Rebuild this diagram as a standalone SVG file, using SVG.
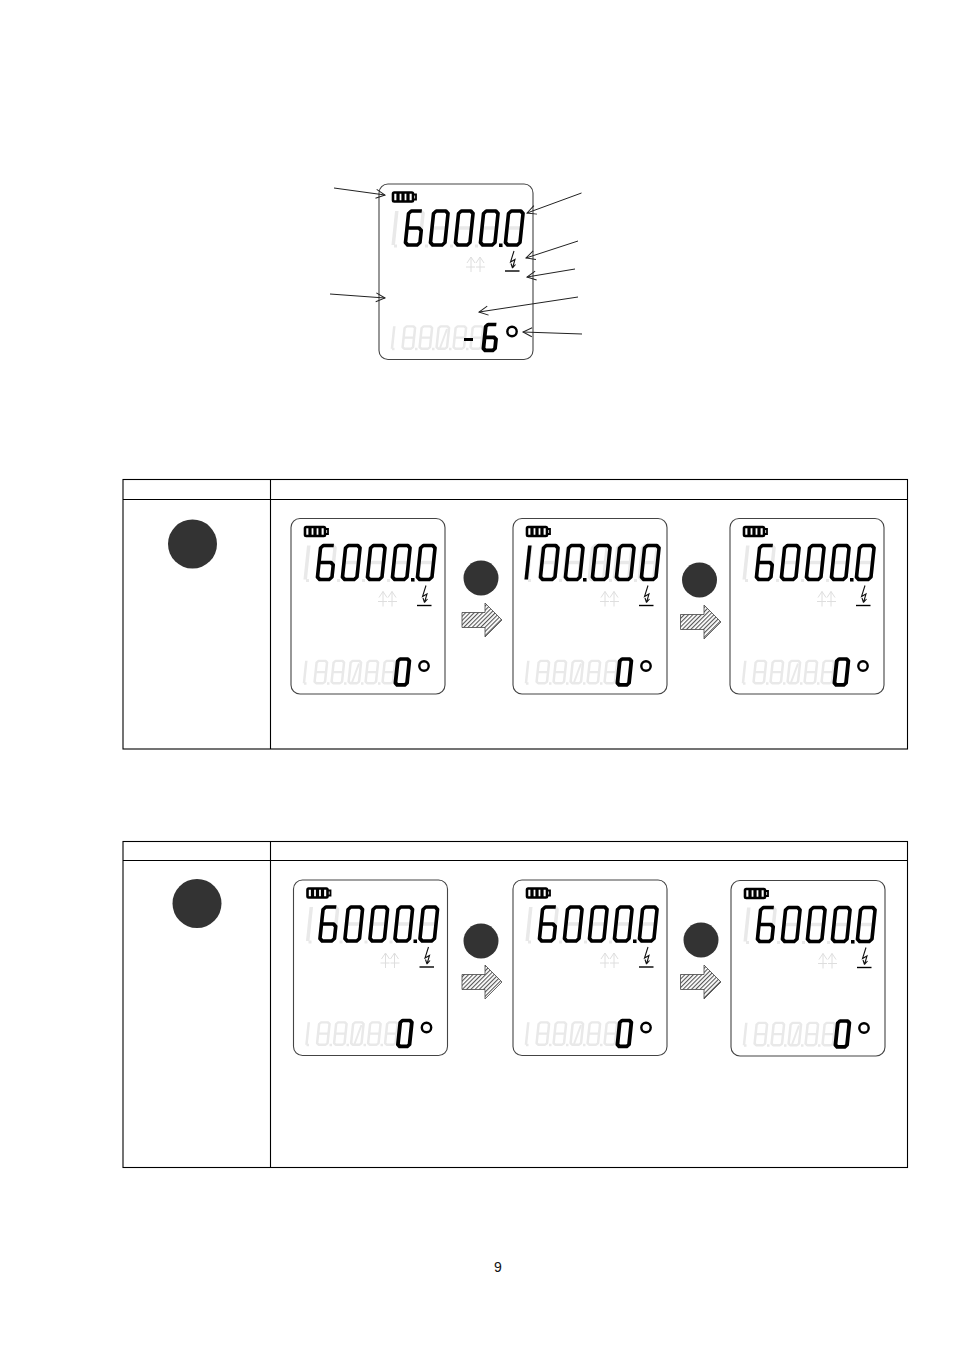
<svg xmlns="http://www.w3.org/2000/svg" width="954" height="1351" viewBox="0 0 954 1351">
<style>
.seg{fill:none;stroke-linejoin:round}
.on{stroke:#000;stroke-width:3.6}
.ghost{stroke:#e9e9e9;stroke-width:3.5}
.lo{stroke-width:4.8}
.fr{fill:#fff;stroke:#444;stroke-width:1.1}
.tbl{fill:none;stroke:#000;stroke-width:1.1}
.ptr{fill:none;stroke:#222;stroke-width:1;marker-end:url(#open)}
.blk{fill:url(#hatch);stroke:#444;stroke-width:.8}
.dot{fill:#333}
.num{font-family:"Liberation Sans",Arial,sans-serif;font-size:14px;fill:#111}
</style>
<defs>
<marker id="open" markerUnits="userSpaceOnUse" markerWidth="12" markerHeight="12" refX="10" refY="6" orient="auto"><path d="M1 1.500L10 6L1 10.500" fill="none" stroke="#222" stroke-width="1"/></marker>
<pattern id="hatch" patternUnits="userSpaceOnUse" width="3" height="3" patternTransform="rotate(45)"><rect width="3" height="3" fill="#fff"/><rect width="1.100" height="3" fill="#555"/></pattern>
<path id="d8" class="seg" d="M4.500 2H14L16.500 4.500V33.500L14 36H4.500L2 33.500V4.500ZM2 19H16.500"/>
<path id="d0" class="seg" d="M4.500 2H14L16.500 4.500V33.500L14 36H4.500L2 33.500V4.500Z"/>
<path id="d6" class="seg" d="M15 2H4.500L2 4.500V33.500L4.500 36H14L16.500 33.500V21.500L14 19H2"/>
<path id="d1" class="seg" d="M2 2V36"/>
<g id="base">
<rect class="fr" x="0" y="0" width="154" height="175.500" rx="9"/>
<g fill="none" stroke="#000">
<rect x="14" y="8.500" width="20" height="9" rx="1.200" stroke-width="2.600"/>
<path d="M34 10.500H37V15.500H34" stroke-width="1.800"/>
<path d="M19 9V17M24 9V17M29 9V17" stroke-width="3.200"/>
</g>
<g class="ghost">
<use href="#d1" transform="translate(16,25) skewX(-6)" class="ghost"/>
<use href="#d8" transform="translate(28,25) skewX(-6)" class="ghost"/>
<use href="#d8" transform="translate(53,25) skewX(-6)" class="ghost"/>
<use href="#d8" transform="translate(78,25) skewX(-6)" class="ghost"/>
<use href="#d8" transform="translate(103,25) skewX(-6)" class="ghost"/>
<use href="#d8" transform="translate(128,25) skewX(-6)" class="ghost"/>
<path d="M15 62h3M46 62h3M71 62h3M96 62h3M121 62h3" stroke-width="3" fill="none"/>
<use href="#d1" transform="translate(14,141) skewX(-6) scale(.72,.66)" class="ghost"/>
<use href="#d8" transform="translate(24.500,141) skewX(-6) scale(.72,.66)" class="ghost"/>
<use href="#d8" transform="translate(41.500,141) skewX(-6) scale(.72,.66)" class="ghost"/>
<use href="#d0" transform="translate(58.500,141) skewX(-6) scale(.72,.66)" class="ghost"/>
<use href="#d8" transform="translate(75.500,141) skewX(-6) scale(.72,.66)" class="ghost"/>
<use href="#d8" transform="translate(92.500,141) skewX(-6) scale(.72,.66)" class="ghost"/>
<path d="M61 164L68 145" stroke-width="2" fill="none"/>
<path d="M13 165h2.500M36 165h2.500M53 165h2.500M70 165h2.500M87 165h2.500" stroke-width="2.500" fill="none"/>
<path d="M87 83H96M97 83H106M92 73V88M101 73V88M88 79L92 73L96 79M97 79L101 73L105 79" fill="none" stroke-width="1" stroke="#dedede"/>
</g>
<path d="M135 67L131.500 78L136 75.500L133.500 84M133.500 84L132 79.500M133.500 84L136.500 80.500" fill="none" stroke="#111" stroke-width="1.100"/>
<path d="M126 87H140.500" fill="none" stroke="#000" stroke-width="1.400"/>
<circle cx="133" cy="147.500" r="4.700" fill="none" stroke="#000" stroke-width="2.400"/>
</g>
<g id="m6000">
<use href="#d6" transform="translate(28,25) skewX(-6)" class="on"/>
<use href="#d0" transform="translate(53,25) skewX(-6)" class="on"/>
<use href="#d0" transform="translate(78,25) skewX(-6)" class="on"/>
<use href="#d0" transform="translate(103,25) skewX(-6)" class="on"/>
<use href="#d0" transform="translate(128,25) skewX(-6)" class="on"/>
<rect x="120" y="59.500" width="3.500" height="3.500"/>
</g>
<use id="l0" href="#d0" transform="translate(105.500,139) skewX(-6) scale(.8,.76)" class="on lo"/>
</defs>

<g id="display-main" transform="translate(379,184)">
<use href="#base"/><use href="#m6000"/>
<path d="M85 155.500H94" fill="none" stroke="#000" stroke-width="3"/>
<use href="#d6" transform="translate(105.500,139) skewX(-6) scale(.8,.76)" class="on lo"/>
</g>

<g id="table-1">
<rect class="tbl" x="123" y="479.500" width="784.500" height="269.500"/>
<path class="tbl" d="M123 499.500H907.500M270.500 479.500V749"/>
<circle class="dot" cx="192.500" cy="544" r="24.500"/>
</g>
<g id="display-a" transform="translate(291,518.500)"><use href="#base"/><use href="#m6000"/><use href="#l0"/></g>
<g id="step-a"><circle class="dot" cx="481" cy="578" r="17.500"/><path class="blk" d="M462 612.500H485V603L502 620L485 637V627.500H462Z"/></g>
<g id="display-b" transform="translate(513,518.500)">
<use href="#base"/>
<use href="#d1" transform="translate(15,25) skewX(-6)" class="on"/>
<use href="#d0" transform="translate(29,25) skewX(-6)" class="on"/>
<use href="#d0" transform="translate(54,25) skewX(-6)" class="on"/>
<use href="#d0" transform="translate(81,25) skewX(-6)" class="on"/>
<use href="#d0" transform="translate(105,25) skewX(-6)" class="on"/>
<use href="#d0" transform="translate(130,25) skewX(-6)" class="on"/>
<rect x="70" y="59.500" width="3.500" height="3.500"/>
<use href="#l0"/>
</g>
<g id="step-b"><circle class="dot" cx="699.500" cy="580" r="17.500"/><path class="blk" d="M680.500 614.500H704V605L721 622L704 639V629.500H680.500Z"/></g>
<g id="display-c" transform="translate(730,518.500)"><use href="#base"/><use href="#m6000"/><use href="#l0"/></g>

<g id="table-2">
<rect class="tbl" x="123" y="841.500" width="784.500" height="326"/>
<path class="tbl" d="M123 860.500H907.500M270.500 841.500V1167.500"/>
<circle class="dot" cx="197" cy="903.500" r="24.500"/>
</g>
<g id="display-d" transform="translate(293.500,880)"><use href="#base"/><use href="#m6000"/><use href="#l0"/></g>
<g id="step-c"><circle class="dot" cx="481" cy="941" r="17.500"/><path class="blk" d="M462 974.500H485V965L502 982L485 999V989.500H462Z"/></g>
<g id="display-e" transform="translate(513,880)"><use href="#base"/><use href="#m6000"/><use href="#l0"/></g>
<g id="step-d"><circle class="dot" cx="701" cy="940" r="17.500"/><path class="blk" d="M680.500 974.500H704V965L721 982L704 999V989.500H680.500Z"/></g>
<g id="display-f" transform="translate(731,880.500)"><use href="#base"/><use href="#m6000"/><use href="#l0"/></g>

<g id="connectors">
<path class="ptr" d="M334 188L385 195"/>
<path class="ptr" d="M581.500 193L527 213"/>
<path class="ptr" d="M578 241L526 258"/>
<path class="ptr" d="M575 269L527 277"/>
<path class="ptr" d="M578 297L479 312"/>
<path class="ptr" d="M582 334L523 332"/>
<path class="ptr" d="M330 294L385 298"/>
</g>

<text class="num" x="498" y="1272" text-anchor="middle">9</text>
</svg>
